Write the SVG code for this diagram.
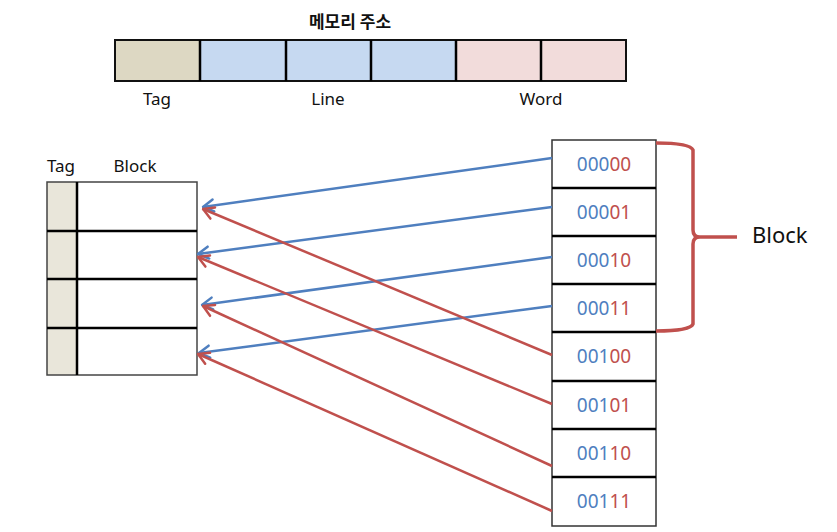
<svg xmlns="http://www.w3.org/2000/svg" width="837" height="532" viewBox="0 0 837 532">
<style>
.t{font-family:"Noto Sans","Liberation Sans",sans-serif;font-size:17px;fill:#111;}
.k{font-family:"Noto Sans CJK KR","Noto Sans",sans-serif;font-size:17px;font-weight:bold;fill:#111;}
.n{font-family:"Noto Sans","Liberation Sans",sans-serif;font-size:19px;text-anchor:middle;}
.b{fill:#4f7fbf;}
.r{fill:#c0504d;}
.cell{fill:#fff;stroke:#333;stroke-width:1.5;}
.sep{stroke:#000;stroke-width:2.5;}
.blue{stroke:#4f7fbf;stroke-width:2.5;fill:none;}
.red{stroke:#c0504d;stroke-width:2.5;fill:none;}
</style>
<defs>
<marker id="ab" markerUnits="userSpaceOnUse" markerWidth="16" markerHeight="16" viewBox="0 0 16 16" refX="14.5" refY="8" orient="auto">
<path d="M4,2 L14.5,8 L4,14" fill="none" stroke="#4f7fbf" stroke-width="2.5" stroke-linecap="round" stroke-linejoin="round"/>
</marker>
<marker id="ar" markerUnits="userSpaceOnUse" markerWidth="16" markerHeight="16" viewBox="0 0 16 16" refX="14.5" refY="8" orient="auto">
<path d="M4,2 L14.5,8 L4,14" fill="none" stroke="#c0504d" stroke-width="2.5" stroke-linecap="round" stroke-linejoin="round"/>
</marker>
</defs>
<rect width="837" height="532" fill="#fff"/>

<g id="address">
<text class="k" x="350" y="28" text-anchor="middle">메모리 주소</text>
<rect x="115" y="40" width="85" height="41" fill="#ddd8c3"/>
<rect x="200" y="40" width="256" height="41" fill="#c6d9f1"/>
<rect x="456" y="40" width="170" height="41" fill="#f2dcdb"/>
<rect x="115" y="40" width="511" height="41" fill="none" stroke="#111" stroke-width="2"/>
<path class="sep" d="M200,40V81M286,40V81M371,40V81M456,40V81M541,40V81"/>
<text class="t" x="157" y="105" text-anchor="middle">Tag</text>
<text class="t" x="328" y="105" text-anchor="middle">Line</text>
<text class="t" x="541" y="105" text-anchor="middle">Word</text>
</g>

<g id="cache">
<text class="t" x="61" y="172" text-anchor="middle">Tag</text>
<text class="t" x="135" y="172" text-anchor="middle">Block</text>
<rect x="47" y="182" width="30" height="193" fill="#e9e6da"/>
<rect x="47" y="182" width="150" height="193" fill="none" stroke="#444" stroke-width="1.5"/>
<path class="sep" d="M77,182V375M47,231H197M47,279H197M47,328H197"/>
</g>

<g id="memory">
<rect class="cell" x="552" y="140" width="104" height="386"/>
<path class="sep" d="M552,188H656M552,236H656M552,284H656M552,332H656M552,381H656M552,429H656M552,477H656"/>
<text class="n" x="604" y="171"><tspan class="b">000</tspan><tspan class="r">00</tspan></text>
<text class="n" x="604" y="219"><tspan class="b">000</tspan><tspan class="r">01</tspan></text>
<text class="n" x="604" y="267"><tspan class="b">000</tspan><tspan class="r">10</tspan></text>
<text class="n" x="604" y="315"><tspan class="b">000</tspan><tspan class="r">11</tspan></text>
<text class="n" x="604" y="363"><tspan class="b">001</tspan><tspan class="r">00</tspan></text>
<text class="n" x="604" y="412"><tspan class="b">001</tspan><tspan class="r">01</tspan></text>
<text class="n" x="604" y="460"><tspan class="b">001</tspan><tspan class="r">10</tspan></text>
<text class="n" x="604" y="508"><tspan class="b">001</tspan><tspan class="r">11</tspan></text>
</g>

<g id="brace">
<path d="M656,143 Q690,143 693,150 V230 Q693,237 700,237 H737 M700,237 Q693,237 693,244 V324 Q690,331 656,331" fill="none" stroke="#c0504d" stroke-width="3.5" stroke-linejoin="round"/>
<text x="752" y="243" font-family="Noto Sans,Liberation Sans,sans-serif" font-size="22" fill="#111">Block</text>
</g>

<g id="connectors">
<line class="blue" x1="552" y1="158" x2="203" y2="207" marker-end="url(#ab)"/>
<line class="blue" x1="552" y1="207" x2="198" y2="254" marker-end="url(#ab)"/>
<line class="blue" x1="552" y1="257" x2="202" y2="305" marker-end="url(#ab)"/>
<line class="blue" x1="552" y1="306" x2="199" y2="353" marker-end="url(#ab)"/>
<line class="red" x1="552" y1="355" x2="203" y2="209" marker-end="url(#ar)"/>
<line class="red" x1="552" y1="404" x2="198" y2="257" marker-end="url(#ar)"/>
<line class="red" x1="552" y1="466" x2="203" y2="306" marker-end="url(#ar)"/>
<line class="red" x1="552" y1="511" x2="198" y2="354" marker-end="url(#ar)"/>
</g>
</svg>
